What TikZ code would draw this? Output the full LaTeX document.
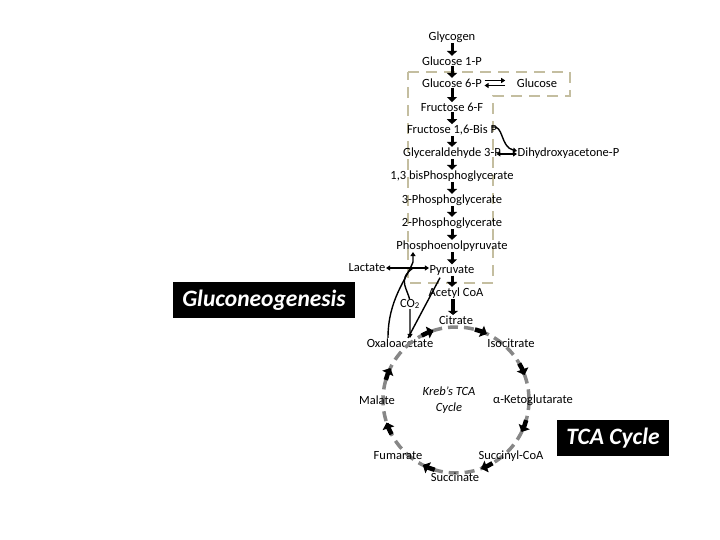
\documentclass[tikz,border=0pt]{standalone}
\usepackage{fontspec}
\setmainfont{Carlito}
\usetikzlibrary{arrows.meta}
\definecolor{boxtan}{RGB}{196,190,160}
\definecolor{cycgray}{RGB}{135,135,135}
\begin{document}
\begin{tikzpicture}[x=1pt,y=-1pt,
  lbl/.style={inner sep=0.5pt, font=\fontsize{12.5}{14}\selectfont},
  dnarrow/.style={line width=3pt,-{Triangle[width=10pt,length=5pt]}},
  thinarr/.style={line width=1.4pt,-{Triangle[width=5pt,length=4pt]}},
  dblarr/.style={line width=1.4pt,{Triangle[width=5pt,length=4pt]}-{Triangle[width=5pt,length=4pt]}},
  plainline/.style={line width=1.4pt},
  dashbox/.style={draw=boxtan,line width=2.8pt,dash pattern=on 11pt off 7pt},
  cycline/.style={draw=cycgray,line width=3.5pt,dash pattern=on 10pt off 6pt},
  blob/.style={line width=4.5pt,-{Triangle[width=12pt,length=6pt]}},
  titlebox/.style={fill=black,text=white,font=\fontsize{23.5}{26}\selectfont\bfseries\itshape,inner sep=0pt}]
\useasboundingbox (0,0) rectangle (720,540);

% dashed box
\draw[dashbox] (408,72) -- (570,72) -- (570,96) -- (493,96) -- (493,283) -- (408,283) -- cycle;

% glycolysis column
\node[lbl] (glycogen) at (452,37) {Glycogen};
\node[lbl] (g1p) at (452,61) {Glucose 1-P};
\node[lbl] (g6p) at (452,83) {Glucose 6-P};
\node[lbl] (glc) at (537,83) {Glucose};
\node[lbl] (f6p) at (452,107) {Fructose 6-F};
\node[lbl] (f16) at (452,130) {Fructose 1,6-Bis P};
\node[lbl] (g3p) at (452,153) {Glyceraldehyde 3-P};
\node[lbl,anchor=west] (dhap) at (517,153) {Dihydroxyacetone-P};
\node[lbl] (bpg) at (452,176) {1,3 bisPhosphoglycerate};
\node[lbl] (pg3) at (452,200) {3-Phosphoglycerate};
\node[lbl] (pg2) at (452,223) {2-Phosphoglycerate};
\node[lbl] (pep) at (452,246) {Phosphoenolpyruvate};
\node[lbl] (pyr) at (452,270) {Pyruvate};
\node[lbl] (lac) at (367,268) {Lactate};
\node[lbl] (acoa) at (456,293) {Acetyl CoA};
\node[lbl] (cit) at (456,320) {Citrate};

\draw[dnarrow] (glycogen) -- (g1p);
\draw[dnarrow] (g1p) -- (g6p);
\draw[dnarrow] (g6p) -- (f6p);
\draw[dnarrow] (f6p) -- (f16);
\draw[dnarrow] (f16) -- (g3p);
\draw[dnarrow] (g3p) -- (bpg);
\draw[dnarrow] (bpg) -- (pg3);
\draw[dnarrow] (pg3) -- (pg2);
\draw[dnarrow] (pg2) -- (pep);
\draw[dnarrow] (pep) -- (pyr);
\draw[dnarrow] (pyr.south) -- (pyr.south |- acoa.north);
\draw[line width=4pt,-{Triangle[width=10pt,length=4pt]}] ([xshift=-3pt]acoa.south) -- ([xshift=-3pt]acoa.south |- cit.north);

% Glucose 6-P <-> Glucose
\draw[thinarr,shorten <=2pt,shorten >=11pt] ([yshift=2.5pt]g6p.east) -- ([yshift=2.5pt]g6p.east -| glc.west);
\draw[thinarr,shorten <=11pt,shorten >=2pt] ([yshift=-2.5pt]g6p.east -| glc.west) -- ([yshift=-2.5pt]g6p.east);

% Fructose 1,6-Bis P -> DHAP, G3P <-> DHAP
\draw[thinarr] ([xshift=-6pt,yshift=3pt]f16.east) .. controls (504,124) and (500,147) .. ([yshift=2pt]dhap.west);
\draw[dblarr] ([xshift=-5pt,yshift=-1pt]g3p.east) -- ([yshift=-1pt]dhap.west);

% Gluconeogenesis connectors
\node[lbl] (oaa) at (400,343) {Oxaloacetate};
\draw[dblarr] (lac.east) -- (pyr.west |- lac.east);
\draw[thinarr] ([xshift=-12pt]oaa.north) .. controls (388,300) and (406,280) .. (413,262) -- ([xshift=-39pt]pep.south);
\draw[thinarr] (413,268) .. controls (396,280) and (409,290) .. (410,302) -- ([xshift=10pt]oaa.north);
\node[lbl,fill=white,inner sep=0.5pt] (co2) at (410,304) {CO\textsubscript{2}};
\draw[plainline] ([xshift=-12pt,yshift=-2pt]pyr.south) -- ([xshift=8pt]oaa.north);

% TCA cycle
\draw[cycline] (456,400) circle (73);
\node[lbl] (iso) at (511,343) {Isocitrate};
\node[lbl] (mal) at (377,400) {Malate};
\node[lbl] (akg) at (533,400) {α-Ketoglutarate};
\node[lbl] (fum) at (398,456) {Fumarate};
\node[lbl] (sca) at (511,456) {Succinyl-CoA};
\node[lbl] (suc) at (455,477) {Succinate};
\node[lbl,font=\fontsize{12.5}{16}\selectfont\itshape,align=center] (kreb) at (449,400) {Kreb’s TCA\\Cycle};
\foreach \a in {-112,-69,-24,22,66,113,158,202}{
  \draw[blob] (456,400) ++(\a-6:73) arc[start angle=\a-6, end angle=\a+4, radius=73];
}

% titles
\node[titlebox,minimum width=182pt,minimum height=36pt] (glng) at (264,300) {Gluconeogenesis};
\node[titlebox,minimum width=112pt,minimum height=36pt] (tca) at (613,438) {TCA Cycle};
\end{tikzpicture}
\end{document}
